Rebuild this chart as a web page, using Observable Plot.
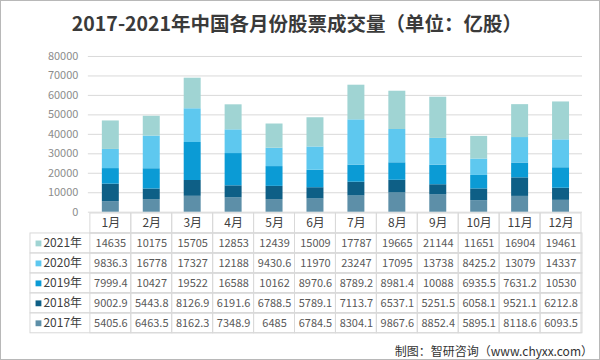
<!DOCTYPE html>
<html><head><meta charset="utf-8">
<script src="https://cdn.jsdelivr.net/npm/d3@7"></script>
<script src="https://cdn.jsdelivr.net/npm/@observablehq/plot@0.6"></script>
<style>
html,body{margin:0;padding:0;background:#fff;}
#wrap{position:relative;width:600px;height:360px;box-sizing:border-box;border:1px solid #b8b8b8;overflow:hidden;font-family:"Noto Sans CJK SC","Noto Sans",sans-serif;}
#title{position:absolute;left:-4px;top:8px;width:600px;text-align:center;font-size:19.5px;font-weight:bold;color:#3a3a3a;line-height:28px;}
#cap{position:absolute;right:6px;top:341px;font-size:12px;color:#333;line-height:18px;}
.p{position:absolute;left:-1px;}
</style></head>
<body><div id="wrap">
<div id="title">2017-2021年中国各月份股票成交量（单位：亿股）</div>
<div id="c1" class="p" style="top:39px"></div>
<div id="c2" class="p" style="top:211px"></div>
<div id="cap">制图：智研咨询（www.chyxx.com）</div>
</div>
<script>
const months = ["1月","2月","3月","4月","5月","6月","7月","8月","9月","10月","11月","12月"];
const years = ["2017年","2018年","2019年","2020年","2021年"];
const colors = ["#5d8fa8","#0e5f86","#0b9bd5","#5ec8ef","#a0d4d3"];
const v2017 = [5405.6,6463.5,8162.3,7348.9,6485,6784.5,8304.1,9867.6,8852.4,5895.1,8118.6,6093.5];
const v2018 = [9002.9,5443.8,8126.9,6191.6,6788.5,5789.1,7113.7,6537.1,5251.5,6058.1,9521.1,6212.8];
const v2019 = [7999.4,10427,19522,16588,10162,8970.6,8789.2,8981.4,10088,6935.5,7631.2,10530];
const v2020 = [9836.3,16778,17327,12188,9430.6,11970,23247,17095,13738,8425.2,13079,14337];
const v2021 = [14635,10175,15705,12853,12439,15009,17787,19665,21144,11651,16904,19461];
const yTicks = [0,10000,20000,30000,40000,50000,60000,70000,80000];

const series = [v2017,v2018,v2019,v2020,v2021];
const data = [];
years.forEach((y,i)=>months.forEach((m,j)=>data.push({year:y, month:m, value:series[i][j]})));

const font = '"Noto Sans CJK SC","Noto Sans",sans-serif';
const color = {domain: years, range: colors};

const p1 = Plot.plot({
  width: 600, height: 180,
  marginTop: 16, marginBottom: 8, marginLeft: 88, marginRight: 17,
  style: {background: "transparent", fontFamily: font},
  x: {domain: months, padding: 0, axis: null},
  y: {domain: [0,80000], ticks: yTicks, tickSize: 0, tickPadding: 10, tickFormat: d=>String(d), label: null},
  color,
  marks: [
    Plot.ruleY(yTicks, {stroke: "#d9d9d9"}),
    Plot.axisY ? Plot.axisY(yTicks, {tickSize: 0, tickPadding: 10, fontSize: 11, fill: "#8c8c8c", tickFormat: d=>String(d), label: null}) : null,
    Plot.barY(data, Plot.stackY({x: "month", y: "value", fill: "year", order: years, insetLeft: 12, insetRight: 12}))
  ].filter(Boolean)
});
document.getElementById("c1").appendChild(p1);

const rowsDomain = ["hdr", ...years.slice().reverse()];
const cells = [];
rowsDomain.forEach(r=>months.forEach(m=>cells.push({row:r, month:m})));

const p2 = Plot.plot({
  width: 600, height: 122,
  marginTop: 1, marginBottom: 1, marginLeft: 88, marginRight: 17,
  style: {background: "transparent", fontFamily: font},
  x: {domain: months, padding: 0, axis: null},
  y: {domain: rowsDomain, padding: 0, axis: null},
  color,
  marks: [
    Plot.cell(years, {y: d=>d, fill: "none", stroke: "#d9d9d9", insetLeft: -58}),
    Plot.cell(cells, {x: "month", y: "row", fill: "none", stroke: "#d9d9d9"}),
    Plot.text(months, {x: d=>d, y: ()=>"hdr", fontSize: 12, fill: "#404040"}),
    Plot.text(data, {x: "month", y: "year", text: d=>String(d.value), fontSize: 11, fill: "#595959"}),
    Plot.dot(years, {y: d=>d, fill: d=>d, symbol: "square", r: 3.3, frameAnchor: "left", dx: -50}),
    Plot.text(years, {y: d=>d, text: d=>d, frameAnchor: "left", textAnchor: "start", dx: -45, fontSize: 12, fill: "#404040"})
  ]
});
document.getElementById("c2").appendChild(p2);
</script>
</body></html>
